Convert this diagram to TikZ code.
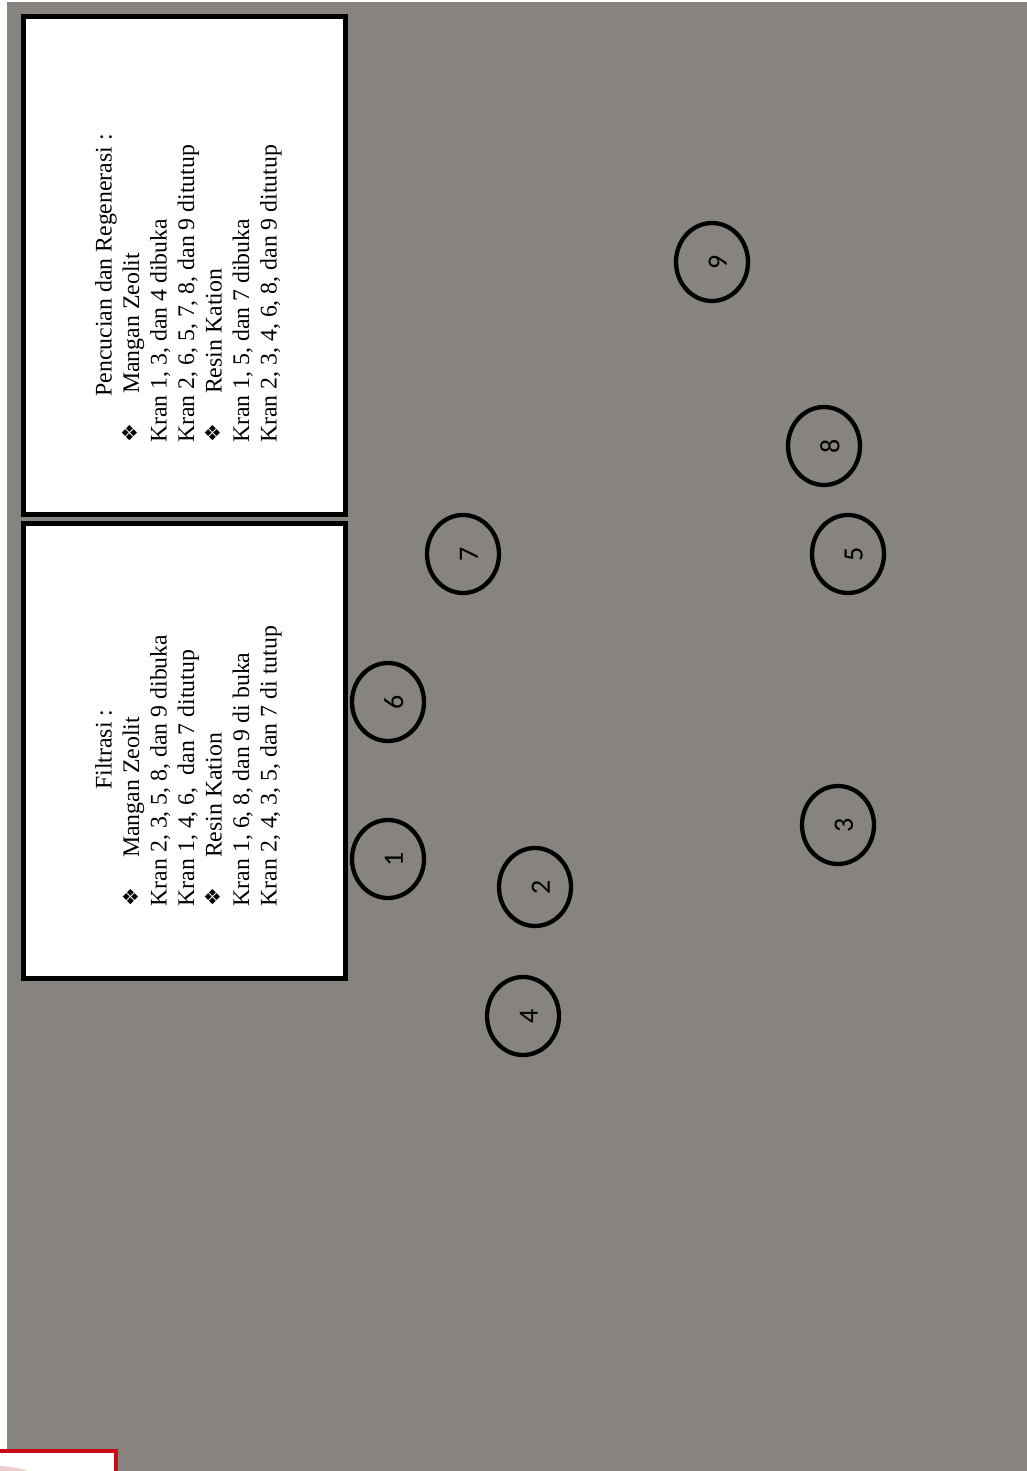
\documentclass[tikz,border=0pt]{standalone}
\usepackage{fontspec}
\setmainfont{Liberation Serif}
\newfontfamily\numfont{Carlito}
\newfontfamily\dingfont{DejaVu Sans}
\usetikzlibrary{shapes.geometric}
\definecolor{bggrey}{RGB}{135,132,128}
\definecolor{logored}{RGB}{204,10,20}
\definecolor{logopink}{RGB}{238,205,205}
\newcommand{\dingbul}{\makebox[0pt][l]{\raisebox{0.6pt}{\dingfont\fontsize{10.5}{10.5}\selectfont ❖}}}
\tikzset{
  valve/.style={ellipse, draw=black, line width=2.15pt, minimum width=36pt, minimum height=39pt, inner sep=0pt},
  num/.style={rotate=90, inner sep=0pt, font=\numfont\fontsize{14}{16}\selectfont},
  panel/.style={draw=black, fill=white, line width=2.6pt, inner sep=0pt},
  paneltext/.style={rotate=90, anchor=base west, inner sep=0pt, font=\fontsize{11.9}{13.75}\selectfont}
}
\begin{document}
\begin{tikzpicture}[x=0.5pt,y=-0.5pt]
\useasboundingbox (0,0) rectangle (1027,1471);
\fill[white] (0,0) rectangle (1027,1471);
\fill[bggrey] (7,2) rectangle (1027,1471);
\begin{scope}
\clip (0,0) rectangle (1027,1471);
\draw[logored, line width=2pt, fill=white] (-10,1451) rectangle (116,1500);
\fill[logopink] (-5,1478) ellipse (40 and 12);
\end{scope}

% panels
\node[panel, minimum width=161.1pt, minimum height=249pt] (boxA) at (184.4,265.7) {};
\node[panel, minimum width=161.1pt, minimum height=227.5pt] (boxB) at (184.4,750.8) {};

\node[paneltext] (txtA) at (111.5,443.3) {\begin{tabular}[t]{@{}l@{}}
\hspace*{23.2pt}Pencucian dan Regenerasi :\\
\dingbul\hspace*{24.5pt}Mangan Zeolit\\
Kran 1, 3, dan 4 dibuka\\
Kran 2, 6, 5, 7, 8, dan 9 ditutup\\
\dingbul\hspace*{24.5pt}Resin Kation\\
Kran 1, 5, dan 7 dibuka\\
Kran 2, 3, 4, 6, 8, dan 9 ditutup
\end{tabular}};

\node[paneltext] (txtB) at (111.7,906.7) {\begin{tabular}[t]{@{}l@{}}
\hspace*{58.3pt}Filtrasi :\\
\dingbul\hspace*{24.2pt}Mangan Zeolit\\
Kran 2, 3, 5, 8, dan 9 dibuka\\
Kran 1, 4, 6,\ \ dan 7 ditutup\\
\dingbul\hspace*{24.2pt}Resin Kation\\
Kran 1, 6, 8, dan 9 di buka\\
Kran 2, 4, 3, 5, dan 7 di tutup
\end{tabular}};

% valves
\node[valve] (v1) at (388,859) {};
\node[valve] (v2) at (535,887) {};
\node[valve] (v3) at (838,825) {};
\node[valve] (v4) at (523,1016) {};
\node[valve] (v5) at (848,554) {};
\node[valve] (v6) at (388,702) {};
\node[valve] (v7) at (463,554) {};
\node[valve] (v8) at (824,446) {};
\node[valve] (v9) at (712,262) {};

\node[num] (n1) at ([xshift=2.9pt]v1.center) {1};
\node[num] (n2) at ([xshift=2.9pt]v2.center) {2};
\node[num] (n3) at ([xshift=2.9pt]v3.center) {3};
\node[num] (n4) at ([xshift=2.9pt]v4.center) {4};
\node[num] (n5) at ([xshift=2.9pt]v5.center) {5};
\node[num] (n6) at ([xshift=2.9pt]v6.center) {6};
\node[num] (n7) at ([xshift=2.9pt]v7.center) {7};
\node[num] (n8) at ([xshift=2.9pt]v8.center) {8};
\node[num] (n9) at ([xshift=2.9pt]v9.center) {9};
\end{tikzpicture}
\end{document}
